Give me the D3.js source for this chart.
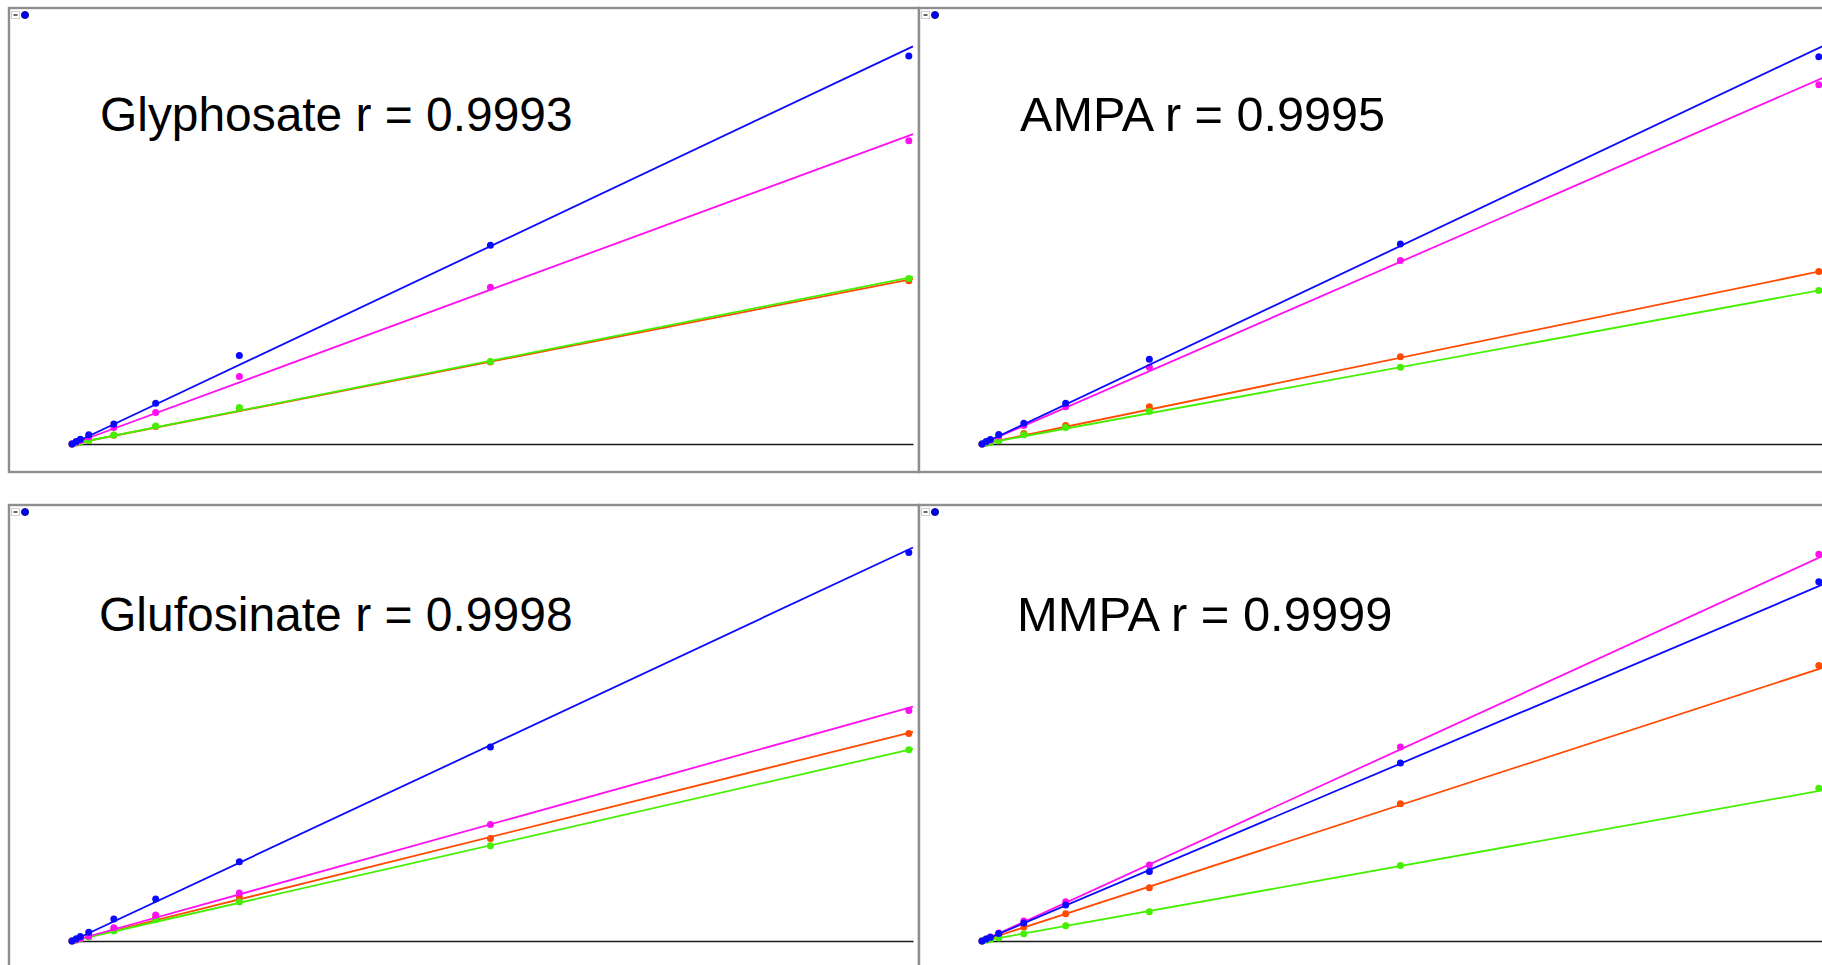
<!DOCTYPE html>
<html>
<head>
<meta charset="utf-8">
<script src="https://cdn.jsdelivr.net/npm/d3@7"></script>
<style>
  html, body { margin: 0; padding: 0; background: #ffffff; overflow: hidden; }
  svg { display: block; }
  text { font-family: "Liberation Sans", Arial, sans-serif; }
</style>
</head>
<body>
<svg id="chart" width="1822" height="965"></svg>
<script>
// ---------------- data ----------------
const concentrations = [0, 0.5, 1, 2, 5, 10, 20, 50, 100];
const xAxisMax = 100.5;

const analytes = ["Glyphosate", "AMPA", "Glufosinate", "MMPA"];
const rValues = ["0.9993", "0.9995", "0.9998", "0.9999"];

// series order: orange, green, magenta, blue
const seriesKeys = ["orange", "green", "magenta", "blue"];
const seriesColors = ["#ff4a00", "#44f000", "#ff10f0", "#0a0aff"];

// responses (relative units) per analyte, per series
const glyphosateOrange  = [0, 0.22, 0.45, 0.9, 2.2, 4.4, 8.9, 20.5, 40.8];
const glyphosateGreen   = [0, 0.22, 0.45, 0.9, 2.25, 4.5, 9.1, 20.6, 41.4];
const glyphosateMagenta = [0, 0.45, 0.9, 1.8, 4.1, 7.9, 16.9, 39.2, 75.8];
const glyphosateBlue    = [0, 0.6, 1.2, 2.3, 5.0, 10.2, 22.1, 49.7, 97.0];

const ampaOrange  = [0, 0.22, 0.45, 0.9, 2.6, 4.65, 9.3, 21.8, 43.1];
const ampaGreen   = [0, 0.2, 0.4, 0.8, 2.3, 4.1, 8.1, 19.2, 38.4];
const ampaMagenta = [0, 0.5, 1.0, 2.0, 4.65, 9.3, 19.2, 45.9, 89.8];
const ampaBlue    = [0, 0.6, 1.15, 2.4, 5.2, 10.2, 21.2, 50.0, 96.8];

const glufosinateOrange  = [0, 0.28, 0.55, 1.1, 2.9, 5.9, 11.0, 25.6, 51.9];
const glufosinateGreen   = [0, 0.25, 0.5, 1.0, 2.5, 5.4, 9.75, 23.8, 47.8];
const glufosinateMagenta = [0, 0.3, 0.6, 1.2, 3.3, 6.5, 12.0, 29.1, 57.6];
const glufosinateBlue    = [0, 0.55, 1.1, 2.2, 5.5, 10.5, 19.8, 48.5, 97.1];

const mmpaOrange  = [0, 0.35, 0.7, 1.4, 3.5, 6.8, 13.3, 34.3, 68.9];
const mmpaGreen   = [0, 0.19, 0.38, 0.75, 1.8, 3.8, 7.3, 18.9, 38.2];
const mmpaMagenta = [0, 0.5, 1.0, 2.0, 5.0, 9.8, 19.0, 48.5, 96.7];
const mmpaBlue    = [0, 0.48, 0.95, 1.9, 4.5, 9.0, 17.4, 44.5, 89.8];

// fitted calibration slopes (response per concentration unit), intercept 0
const glyphosateSlopes  = [0.411, 0.416, 0.771, 0.989];
const ampaSlopes        = [0.431, 0.384, 0.911, 0.990];
const glufosinateSlopes = [0.520, 0.478, 0.583, 0.979];
const mmpaSlopes        = [0.680, 0.375, 0.958, 0.887];

const panelSeries = [
  [glyphosateOrange, glyphosateGreen, glyphosateMagenta, glyphosateBlue],
  [ampaOrange, ampaGreen, ampaMagenta, ampaBlue],
  [glufosinateOrange, glufosinateGreen, glufosinateMagenta, glufosinateBlue],
  [mmpaOrange, mmpaGreen, mmpaMagenta, mmpaBlue]
];
const panelSlopes = [glyphosateSlopes, ampaSlopes, glufosinateSlopes, mmpaSlopes];

// ---------------- layout ----------------
const svg = d3.select("#chart");
const panelW = 910, panelH = 464;
const panelOrigins = [[9, 8], [919, 8], [9, 505], [919, 505]];
const titleDx = [91, 101, 90, 98];
const titleDy = [123, 123, 126, 126];
const titleSize = [47.9, 48.6, 48.0, 48.9];

panelOrigins.forEach(([px, py], i) => {
  const g = svg.append("g").attr("transform", `translate(${px},${py})`);

  const clipId = "clip" + i;
  g.append("clipPath").attr("id", clipId)
    .append("rect").attr("x", 1).attr("y", 1).attr("width", panelW - 2).attr("height", panelH - 2);

  // panel background and border
  g.append("rect")
    .attr("x", 0).attr("y", 0).attr("width", panelW).attr("height", panelH)
    .attr("fill", "#ffffff").attr("stroke", "#8e8e8e").attr("stroke-width", 2.4);

  const x = d3.scaleLinear().domain([0, xAxisMax]).range([63, 904]);
  const y = d3.scaleLinear().domain([0, 100]).range([436, 36]);

  const body = g.append("g").attr("clip-path", `url(#${clipId})`);

  // baseline (x axis, no ticks)
  const axis = d3.axisBottom(x).tickValues([]).tickSizeOuter(0);
  body.append("g").attr("transform", `translate(0,${y(0)})`).call(axis)
    .select(".domain").attr("stroke", "#1a1a1a").attr("stroke-width", 1.6);

  // title
  body.append("text")
    .attr("x", titleDx[i]).attr("y", titleDy[i])
    .attr("font-size", titleSize[i]).attr("fill", "#000")
    .text(`${analytes[i]} r = ${rValues[i]}`);

  // series: regression line then points
  panelSeries[i].forEach((vals, s) => {
    const slope = panelSlopes[i][s];
    const fit = [0, xAxisMax].map(c => [c, slope * c]);
    body.append("path")
      .datum(fit)
      .attr("fill", "none")
      .attr("stroke", seriesColors[s])
      .attr("stroke-width", 1.8)
      .attr("d", d3.line().x(d => x(d[0])).y(d => y(d[1])));

    body.selectAll(null)
      .data(concentrations.map((c, k) => [c, vals[k]]))
      .join("circle")
      .attr("cx", d => x(d[0]))
      .attr("cy", d => y(d[1]))
      .attr("r", 3.5)
      .attr("fill", seriesColors[s]);
  });

  // small legend toggle box and marker at top-left
  body.append("rect")
    .attr("x", 2.5).attr("y", 3.5).attr("width", 8).attr("height", 7)
    .attr("fill", "#fff").attr("stroke", "#d0d0d0").attr("stroke-width", 1);
  body.append("line")
    .attr("x1", 4.5).attr("x2", 8.5).attr("y1", 7).attr("y2", 7)
    .attr("stroke", "#000").attr("stroke-width", 1.2);
  body.append("circle")
    .attr("cx", 16).attr("cy", 7).attr("r", 3.6)
    .attr("fill", "#0000ff").attr("stroke", "#000060").attr("stroke-width", 0.8);
});
</script>
</body>
</html>
